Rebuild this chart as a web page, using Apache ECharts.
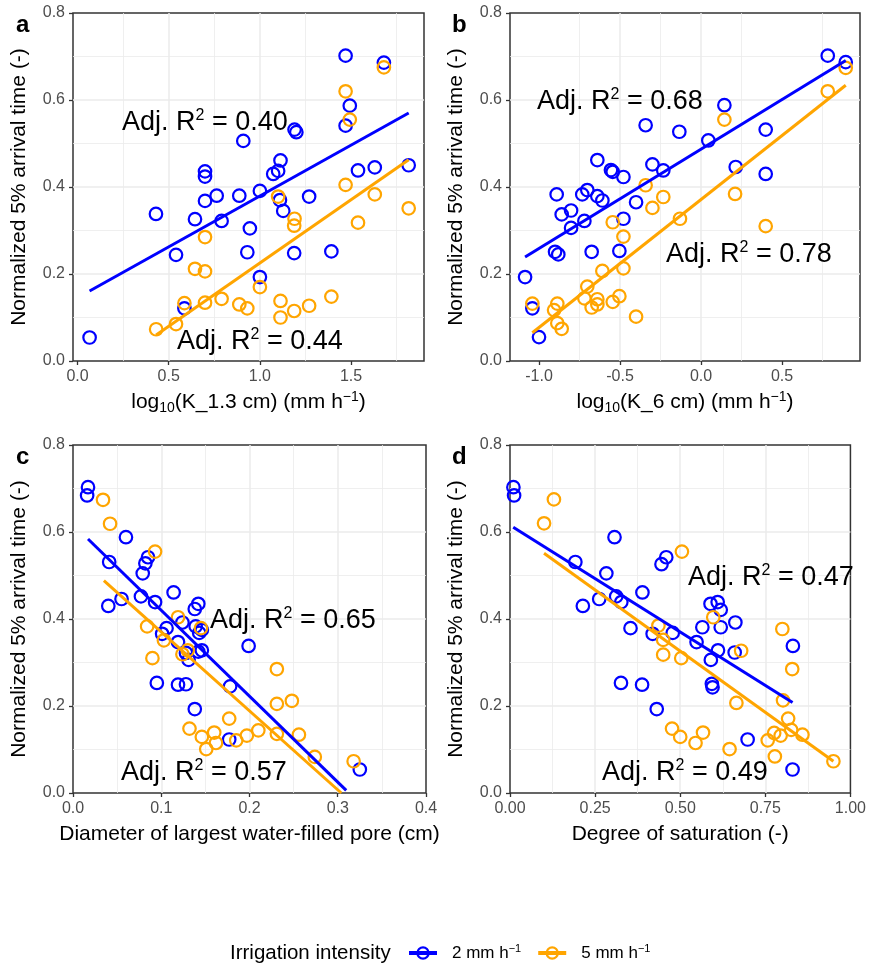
<!DOCTYPE html>
<html><head><meta charset="utf-8">
<script src="https://cdn.jsdelivr.net/npm/echarts@6/dist/echarts.min.js"></script>
<style>html,body{margin:0;padding:0;background:#fff}#c{width:869px;height:964px}</style>
</head><body><div id="c"></div>
<script>
// ---------------- data ----------------
const seriesNames = ['2 mm h-1', '5 mm h-1'];
const panelLetters = ['a', 'b', 'c', 'd'];
const r2Labels = [['0.40', '0.44'], ['0.68', '0.78'], ['0.65', '0.57'], ['0.47', '0.49']];
const yTicks = [0, 0.2, 0.4, 0.6, 0.8];
const aXTicks = [0, 0.5, 1.0, 1.5];
const aXMinor = [0.25, 0.75, 1.25, 1.75];
const bXTicks = [-1.0, -0.5, 0, 0.5];
const bXMinor = [-0.75, -0.25, 0.25, 0.75];
const cXTicks = [0, 0.1, 0.2, 0.3, 0.4];
const dXTicks = [0, 0.25, 0.5, 0.75, 1.0];

// panel a: log10(K_1.3 cm)
const aBlue = [[0.066,0.054],[0.43,0.338],[0.54,0.244],[0.586,0.121],[0.644,0.326],[0.699,0.436],[0.699,0.424],[0.699,0.368],[0.763,0.380],[0.79,0.322],[0.887,0.380],[0.909,0.506],[0.931,0.25],[0.945,0.305],[1.0,0.391],[1.0,0.193],[1.073,0.43],[1.10,0.437],[1.113,0.461],[1.11,0.370],[1.128,0.345],[1.19,0.532],[1.20,0.526],[1.188,0.248],[1.27,0.378],[1.392,0.252],[1.47,0.702],[1.47,0.541],[1.493,0.587],[1.538,0.438],[1.63,0.445],[1.68,0.686],[1.816,0.450]];
const aOrange = [[0.431,0.073],[0.54,0.085],[0.586,0.133],[0.644,0.212],[0.699,0.206],[0.699,0.285],[0.699,0.134],[0.79,0.143],[0.887,0.130],[0.931,0.121],[1.0,0.170],[1.10,0.378],[1.113,0.138],[1.113,0.100],[1.19,0.327],[1.188,0.311],[1.188,0.115],[1.27,0.127],[1.392,0.148],[1.47,0.405],[1.47,0.62],[1.493,0.555],[1.538,0.318],[1.63,0.383],[1.68,0.675],[1.816,0.351]];
const aBlueFit = [[0.066,0.161],[1.816,0.570]];
const aOrangeFit = [[0.431,0.060],[1.816,0.4625]];

// panel b: log10(K_6 cm)
const bBlue = [[-1.086,0.193],[-1.041,0.121],[-1.0,0.055],[-0.891,0.383],[-0.860,0.337],[-0.901,0.251],[-0.881,0.245],[-0.802,0.346],[-0.802,0.306],[-0.733,0.383],[-0.720,0.322],[-0.702,0.393],[-0.675,0.251],[-0.640,0.462],[-0.640,0.379],[-0.609,0.369],[-0.556,0.439],[-0.545,0.435],[-0.479,0.423],[-0.479,0.327],[-0.504,0.253],[-0.401,0.365],[-0.342,0.542],[-0.300,0.452],[-0.233,0.438],[-0.134,0.527],[0.045,0.507],[0.144,0.588],[0.214,0.446],[0.399,0.532],[0.399,0.430],[0.782,0.702],[0.893,0.687]];
const bOrange = [[-1.041,0.132],[-0.907,0.117],[-0.887,0.132],[-0.887,0.087],[-0.860,0.074],[-0.720,0.144],[-0.702,0.171],[-0.675,0.123],[-0.640,0.142],[-0.640,0.130],[-0.609,0.207],[-0.545,0.319],[-0.545,0.136],[-0.504,0.149],[-0.479,0.286],[-0.479,0.213],[-0.401,0.102],[-0.342,0.404],[-0.300,0.352],[-0.233,0.377],[-0.130,0.327],[0.144,0.555],[0.210,0.384],[0.399,0.310],[0.782,0.620],[0.893,0.674]];
const bBlueFit = [[-1.086,0.239],[0.893,0.691]];
const bOrangeFit = [[-1.041,0.065],[0.893,0.634]];

// panel c: diameter of largest water-filled pore
const cBlue = [[0.017,0.703],[0.016,0.684],[0.041,0.531],[0.040,0.430],[0.055,0.446],[0.060,0.588],[0.077,0.452],[0.079,0.505],[0.082,0.528],[0.085,0.542],[0.093,0.439],[0.095,0.253],[0.101,0.366],[0.106,0.379],[0.114,0.461],[0.119,0.347],[0.119,0.249],[0.124,0.392],[0.128,0.250],[0.131,0.306],[0.128,0.322],[0.138,0.193],[0.138,0.423],[0.142,0.435],[0.139,0.383],[0.146,0.375],[0.143,0.368],[0.146,0.328],[0.142,0.325],[0.178,0.245],[0.177,0.123],[0.199,0.338],[0.325,0.054]];
const cOrange = [[0.034,0.674],[0.042,0.619],[0.093,0.555],[0.084,0.383],[0.090,0.310],[0.103,0.351],[0.119,0.404],[0.124,0.319],[0.130,0.328],[0.145,0.379],[0.132,0.148],[0.146,0.129],[0.151,0.101],[0.160,0.139],[0.162,0.115],[0.177,0.171],[0.185,0.121],[0.197,0.132],[0.210,0.144],[0.231,0.285],[0.231,0.205],[0.231,0.136],[0.248,0.212],[0.256,0.134],[0.274,0.083],[0.318,0.073]];
const cBlueFit = [[0.017,0.584],[0.3096,0.006]];
const cOrangeFit = [[0.035,0.488],[0.304,0.0]];

// panel d: degree of saturation
const dBlue = [[0.010,0.703],[0.012,0.684],[0.192,0.531],[0.214,0.430],[0.262,0.446],[0.307,0.588],[0.283,0.505],[0.312,0.452],[0.327,0.439],[0.326,0.253],[0.354,0.379],[0.388,0.249],[0.389,0.461],[0.419,0.366],[0.431,0.193],[0.445,0.526],[0.459,0.542],[0.478,0.368],[0.548,0.347],[0.565,0.381],[0.589,0.435],[0.590,0.306],[0.593,0.251],[0.595,0.243],[0.610,0.439],[0.619,0.421],[0.619,0.381],[0.611,0.328],[0.662,0.392],[0.660,0.323],[0.698,0.123],[0.831,0.338],[0.830,0.054]];
const dOrange = [[0.10,0.620],[0.129,0.675],[0.436,0.385],[0.450,0.352],[0.450,0.318],[0.505,0.555],[0.503,0.310],[0.476,0.148],[0.500,0.129],[0.545,0.115],[0.567,0.139],[0.597,0.404],[0.645,0.101],[0.665,0.207],[0.679,0.327],[0.757,0.121],[0.776,0.138],[0.778,0.084],[0.795,0.132],[0.800,0.377],[0.802,0.213],[0.817,0.171],[0.826,0.145],[0.829,0.285],[0.859,0.134],[0.950,0.073]];
const dBlueFit = [[0.0095,0.611],[0.830,0.208]];
const dOrangeFit = [[0.10,0.551],[0.950,0.073]];

// ---------------- styling / layout ----------------
const FONT = '"Liberation Sans", Arial, Helvetica, sans-serif';
const BLUE = '#0000FF', ORANGE = '#FFA500';
const GRIDC = '#EBEBEB', BORDER = '#333333', TICKC = '#4D4D4D';

const grids = [
  {left: 73, top: 13, width: 351, height: 348},
  {left: 510, top: 13, width: 350, height: 348},
  {left: 73, top: 445, width: 353, height: 348},
  {left: 510, top: 445, width: 350, height: 348}
];

const nameRich = {
  n: {fontSize: 21, lineHeight: 25, fontFamily: FONT, color: '#000'},
  sub: {fontSize: 14, lineHeight: 14, verticalAlign: 'bottom', fontFamily: FONT, color: '#000'},
  sup: {fontSize: 14, lineHeight: 14, verticalAlign: 'top', fontFamily: FONT, color: '#000'}
};
const xNames = [
  '{n|log}{sub|10}{n|(K_1.3 cm) (mm h}{sup|\u22121}{n|)}',
  '{n|log}{sub|10}{n|(K_6 cm) (mm h}{sup|\u22121}{n|)}',
  '{n|Diameter of largest water-filled pore (cm)}',
  '{n|Degree of saturation (-)}'
];
const xRanges = [[-0.025, 1.90], [-1.179, 0.981], [0, 0.4], [0, 1]];
const xMajor = [aXTicks, bXTicks, cXTicks, dXTicks];
const xMinor = [aXMinor, bXMinor, null, null];
const xDigits = [1, 1, 1, 2];

const majorLine = {show: true, showMinLine: false, showMaxLine: false, lineStyle: {color: GRIDC, width: 1.5}};
const minorLine = {show: true, lineStyle: {color: GRIDC, width: 0.8}};
const tickStyle = {show: true, length: 4, inside: false, lineStyle: {color: BORDER, width: 1.3}};
const labelStyle = {color: TICKC, fontSize: 16, fontFamily: FONT, margin: 8};
const noLine = {show: false, onZero: false};

const xAxes = [], yAxes = [], series = [], graphics = [];
const pts = [[aBlue, aOrange], [bBlue, bOrange], [cBlue, cOrange], [dBlue, dOrange]];
const fits = [[aBlueFit, aOrangeFit], [bBlueFit, bOrangeFit], [cBlueFit, cOrangeFit], [dBlueFit, dOrangeFit]];

for (let p = 0; p < 4; p++) {
  const dig = xDigits[p];
  const fmt = v => v.toFixed(dig);
  if (xMinor[p]) {
    xAxes.push({
      gridIndex: p, type: 'value', min: xRanges[p][0], max: xRanges[p][1],
      name: xNames[p], nameLocation: 'middle', nameGap: 29,
      nameTextStyle: {fontFamily: FONT, fontSize: 21, color: '#000', rich: nameRich},
      axisLine: noLine,
      axisTick: Object.assign({}, tickStyle, {customValues: xMajor[p]}),
      axisLabel: Object.assign({}, labelStyle, {customValues: xMajor[p], formatter: fmt}),
      splitLine: majorLine
    });
    xAxes.push({
      gridIndex: p, type: 'value', position: 'top', min: xRanges[p][0], max: xRanges[p][1],
      axisLine: noLine,
      axisTick: {show: false, customValues: xMinor[p]},
      axisLabel: {show: false, customValues: xMinor[p]},
      splitLine: minorLine
    });
  } else {
    xAxes.push({
      gridIndex: p, type: 'value', min: xRanges[p][0], max: xRanges[p][1],
      interval: xMajor[p][1] - xMajor[p][0],
      name: xNames[p], nameLocation: 'middle', nameGap: 29,
      nameTextStyle: {fontFamily: FONT, fontSize: 21, color: '#000', rich: nameRich},
      axisLine: noLine,
      axisTick: tickStyle,
      axisLabel: Object.assign({}, labelStyle, {formatter: fmt}),
      splitLine: majorLine,
      minorTick: {show: false, splitNumber: 2},
      minorSplitLine: minorLine
    });
  }
  yAxes.push({
    gridIndex: p, type: 'value', min: yTicks[0], max: yTicks[yTicks.length - 1],
    interval: yTicks[1] - yTicks[0],
    name: 'Normalized 5% arrival time (-)', nameLocation: 'middle', nameGap: 43,
    nameTextStyle: {fontFamily: FONT, fontSize: 21, color: '#000'},
    axisLine: noLine,
    axisTick: tickStyle,
    axisLabel: Object.assign({}, labelStyle, {formatter: v => v.toFixed(1)}),
    splitLine: majorLine,
    minorTick: {show: false, splitNumber: 2},
    minorSplitLine: minorLine
  });
}

// map panel -> primary x axis index
const xIdx = [];
{ let k = 0; for (let p = 0; p < 4; p++) { xIdx.push(k); k += xMinor[p] ? 2 : 1; } }

const colors = [BLUE, ORANGE];
for (let p = 0; p < 4; p++) {
  for (let s = 0; s < 2; s++) {
    series.push({
      type: 'scatter', name: 'pts' + p + s, xAxisIndex: xIdx[p], yAxisIndex: p,
      data: pts[p][s], symbol: 'circle', symbolSize: 12.5, z: 2 + s * 0.1,
      itemStyle: {color: 'rgba(0,0,0,0)', borderColor: colors[s], borderWidth: 2.2, opacity: 1},
      emphasis: {disabled: true}, silent: true
    });
  }
}
for (let p = 0; p < 4; p++) {
  for (let s = 0; s < 2; s++) {
    series.push({
      type: 'line', name: p === 0 ? seriesNames[s] : ('fit' + p + s),
      xAxisIndex: xIdx[p], yAxisIndex: p,
      data: fits[p][s], showSymbol: false, symbol: 'circle', symbolSize: 10,
      lineStyle: {color: colors[s], width: 3}, itemStyle: {color: colors[s]},
      z: 3 + s * 0.1, silent: true, emphasis: {disabled: true}
    });
  }
}

// annotations (R² labels)
const annPos = [[[122,123],[177,342]], [[537,102],[666,255]], [[210,621],[121,773]], [[688,578],[602,773]]];
const annRich = {
  n: {fontSize: 27, lineHeight: 31, fontFamily: FONT, fill: '#000'},
  s: {fontSize: 16, lineHeight: 16, verticalAlign: 'top', fontFamily: FONT, fill: '#000'}
};
for (let p = 0; p < 4; p++) {
  for (let s = 0; s < 2; s++) {
    graphics.push({
      type: 'text', x: annPos[p][s][0], y: annPos[p][s][1], z: 100,
      style: {text: '{n|Adj. R}{s|2}{n| = ' + r2Labels[p][s] + '}', rich: annRich,
              fontFamily: FONT, fontSize: 27, fill: '#000', align: 'left', verticalAlign: 'middle'}
    });
  }
}
// panel letters
const letterPos = [[16, 25], [452, 25], [16, 457], [452, 457]];
for (let p = 0; p < 4; p++) {
  graphics.push({
    type: 'text', x: letterPos[p][0], y: letterPos[p][1], z: 100,
    style: {text: panelLetters[p], fontFamily: FONT, fontSize: 24, fontWeight: 'bold', fill: '#000',
            align: 'left', verticalAlign: 'middle'}
  });
}
// legend title
graphics.push({
  type: 'text', x: 230, y: 953, z: 100,
  style: {text: 'Irrigation intensity', fontFamily: FONT, fontSize: 20.5, fill: '#000', align: 'left', verticalAlign: 'middle'}
});

const chart = echarts.init(document.getElementById('c'), null, {renderer: 'canvas'});
chart.setOption({
  backgroundColor: '#fff',
  animation: false,
  grid: grids.map(g => Object.assign({show: true, borderColor: BORDER, borderWidth: 1.5, backgroundColor: 'rgba(0,0,0,0)', containLabel: false}, g)),
  xAxis: xAxes,
  yAxis: yAxes,
  legend: {
    left: 407, top: 943, itemWidth: 28, itemHeight: 14, itemGap: 15, padding: 0,
    selectedMode: false,
    data: seriesNames.map((n, i) => ({name: n,
      itemStyle: {color: 'rgba(0,0,0,0)', borderColor: colors[i], borderWidth: 2.2},
      lineStyle: {color: colors[i], width: 4}})),
    formatter: name => '{t|' + name.split(' h')[0] + ' h}{s|\u22121}',
    textStyle: {fontFamily: FONT, fontSize: 17, color: '#000', padding: [0, 0, 0, 10],
      rich: {t: {fontSize: 17, lineHeight: 20, fontFamily: FONT, color: '#000'},
             s: {fontSize: 11, lineHeight: 11, verticalAlign: 'top', fontFamily: FONT, color: '#000'}}}
  },
  series: series,
  graphic: graphics
});
</script></body></html>
